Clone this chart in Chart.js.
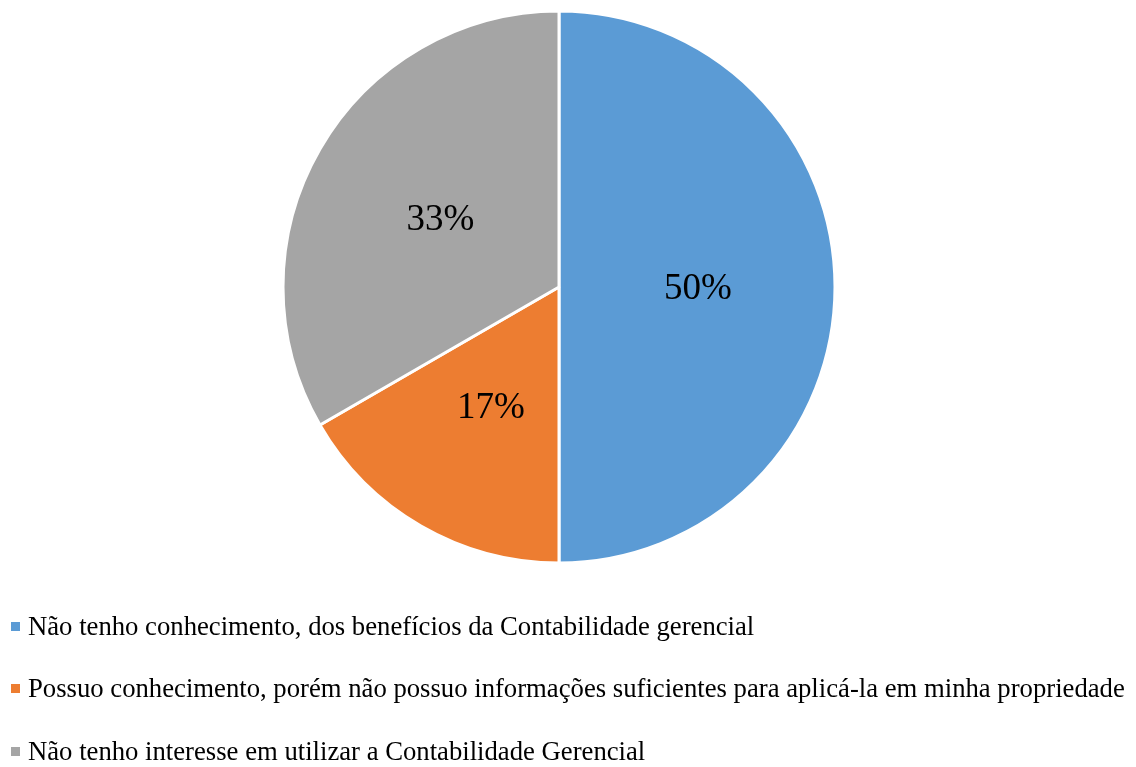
<!DOCTYPE html>
<html>
<head>
<meta charset="utf-8">
<script src="https://cdn.jsdelivr.net/npm/chart.js@4"></script>
<style>
  html, body { margin: 0; padding: 0; background: #fff; overflow: hidden; }
  #wrap { width: 1136px; height: 767px; position: relative; }
</style>
</head>
<body>
<div id="wrap"><canvas id="grafica"></canvas></div>
<script>
const categorias = [
  'Não tenho conhecimento, dos benefícios da Contabilidade gerencial',
  'Possuo conhecimento, porém não possuo informações suficientes para aplicá-la em minha propriedade',
  'Não tenho interesse em utilizar a Contabilidade Gerencial'
];
const valores = [50, 16.67, 33.33];
const cores = ['#5B9BD5', '#ED7D31', '#A5A5A5'];

const fonte = '"Liberation Serif", "Times New Roman", serif';

// rótulos de porcentagem dentro das fatias
const rotulos = {
  id: 'rotulos',
  afterDatasetsDraw(chart) {
    const ctx = chart.ctx;
    const meta = chart.getDatasetMeta(0);
    const total = valores.reduce((a, b) => a + b, 0);
    ctx.save();
    ctx.font = '37px ' + fonte;
    ctx.fillStyle = '#000';
    ctx.textAlign = 'center';
    ctx.textBaseline = 'middle';
    meta.data.forEach((arc, i) => {
      const p = arc.getCenterPoint();
      ctx.fillText(Math.round(valores[i] / total * 100) + '%', p.x + 1, p.y + 2);
    });
    ctx.restore();
  }
};

// legenda desenhada à mão, um item por linha
const legenda = {
  id: 'legenda',
  afterDraw(chart) {
    const ctx = chart.ctx;
    const linhas = [627, 689, 752];
    ctx.save();
    ctx.font = '26.7px ' + fonte;
    ctx.textBaseline = 'middle';
    chart.data.labels.forEach((txt, i) => {
      ctx.fillStyle = chart.data.datasets[0].backgroundColor[i];
      ctx.fillRect(11, linhas[i] - 5, 9, 9);
      ctx.fillStyle = '#000';
      ctx.fillText(txt, 28, linhas[i] + 1);
    });
    ctx.restore();
  }
};

const config = {
  type: 'pie',
  data: {
    labels: categorias,
    datasets: [{
      data: valores,
      backgroundColor: cores,
      borderColor: '#fff',
      borderWidth: 3
    }]
  },
  options: {
    responsive: true,
    maintainAspectRatio: false,
    animation: false,
    layout: { padding: { top: 9.5, bottom: 202.5, left: 0, right: 18 } },
    plugins: {
      legend: { display: false },
      tooltip: { enabled: false }
    }
  },
  plugins: [rotulos, legenda]
};

const ctx = document.getElementById('grafica');
var migrafica = new Chart(ctx, config);
</script>
</body>
</html>
